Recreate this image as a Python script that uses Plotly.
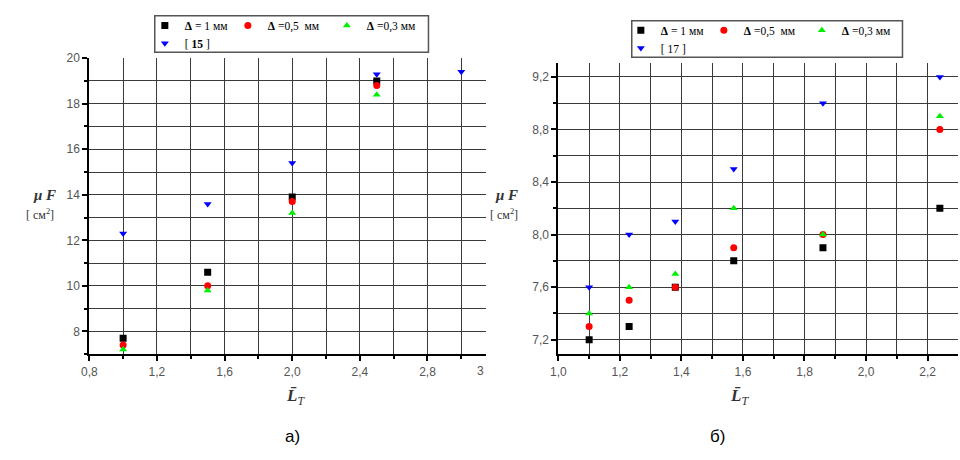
import plotly.graph_objects as go

# ---------------- data: panel а) ----------------
xa = [1.0, 1.5, 2.0, 2.5]
a_d1 = [7.7, 10.6, 13.9, 19.0]
a_d05 = [7.4, 10.0, 13.7, 18.8]
a_d03 = [7.2, 9.8, 13.2, 18.4]
xa_ref = [1.0, 1.5, 2.0, 2.5, 3.0]
a_ref = [12.3, 13.6, 15.4, 19.3, 19.4]

# ---------------- data: panel б) ----------------
xb = [1.10, 1.23, 1.38, 1.57, 1.86, 2.24]
b_d1 = [7.2, 7.3, 7.6, 7.8, 7.9, 8.2]
b_d05 = [7.3, 7.5, 7.6, 7.9, 8.0, 8.8]
b_d03 = [7.4, 7.6, 7.7, 8.2, 8.0, 8.9]
b_ref = [7.6, 8.0, 8.1, 8.5, 9.0, 9.2]

labels = ["<b>Δ</b> = 1 мм", "<b>Δ</b> =0,5  мм", "<b>Δ</b> =0,3 мм"]
ref_a_label = "[ <b>15</b> ]"
ref_b_label = "[ 17 ]"

W, H = 960, 460
BLACK, RED, GREEN, BLUE = "#000000", "#ff0000", "#00ee00", "#0000ff"
MSIZE = 7

fig = go.Figure()

def add(x, y, name, color, symbol, xa_, ya_, legend, lw=None):
    fig.add_trace(go.Scatter(
        x=x, y=y, name=name, mode="markers",
        marker=dict(color=color, symbol=symbol, size=MSIZE, line=dict(width=0)),
        xaxis=xa_, yaxis=ya_, legend=legend, legendwidth=lw))

add(xa, a_d1, labels[0], BLACK, "square", "x", "y", "legend", 38)
add(xa, a_d05, labels[1], RED, "circle", "x", "y", "legend", 54)
add(xa, a_d03, labels[2], GREEN, "triangle-up", "x", "y", "legend")
add(xa_ref, a_ref, ref_a_label, BLUE, "triangle-down", "x", "y", "legend2")

add(xb, b_d1, labels[0], BLACK, "square", "x2", "y2", "legend3", 38)
add(xb, b_d05, labels[1], RED, "circle", "x2", "y2", "legend3", 53)
add(xb, b_d03, labels[2], GREEN, "triangle-up", "x2", "y2", "legend3")
add(xb, b_ref, ref_b_label, BLUE, "triangle-down", "x2", "y2", "legend4")

GRID = "#3a3a3a"
tickfont = dict(family="Liberation Sans", size=12, color="#555555")

def ax(domain, rng, tick0, dtick, mdtick, anchor, fmt):
    return dict(domain=domain, range=rng, anchor=anchor, tick0=tick0, dtick=dtick,
                tickformat=fmt, showgrid=True, gridcolor=GRID, gridwidth=1.4,
                ticks="outside", ticklen=5, tickwidth=1.5, tickcolor="black",
                showline=True, linecolor="black", linewidth=2, zeroline=False,
                tickfont=tickfont,
                minor=dict(tick0=tick0, dtick=mdtick, showgrid=True, gridcolor=GRID,
                           gridwidth=1.4, ticks="outside", ticklen=3, tickcolor="black"))

ybot = 1 - 352.5 / H
fig.update_layout(
    width=W, height=H, margin=dict(l=0, r=0, t=0, b=0),
    paper_bgcolor="white", plot_bgcolor="white", separators=", ",
    xaxis=ax([82 / W, 482 / W], [0.8, 3.146], 0.8, 0.4, 0.2, "y", ".1f"),
    yaxis=ax([ybot, 1 - 52 / H], [7, 20], 8, 2, 1, "x", "d"),
    xaxis2=ax([555 / W, 958 / W], [1.0, 2.299], 1.0, 0.2, 0.1, "y2", ".1f"),
    yaxis2=ax([ybot, 1 - 57 / H], [7.09, 9.305], 7.2, 0.4, 0.2, "x2", ".1f"),
)

leg_common = dict(orientation="h", xanchor="left", yanchor="top",
                  bgcolor="rgba(0,0,0,0)", borderwidth=0,
                  font=dict(family="Liberation Serif", size=11.5, color="black"))
fig.update_layout(
    legend=dict(x=138 / W, y=1 - 4 / H, **leg_common),
    legend2=dict(x=138 / W, y=1 - 22 / H, **leg_common),
    legend3=dict(x=618 / W, y=1 - 9 / H, **leg_common),
    legend4=dict(x=618 / W, y=1 - 27 / H, **leg_common),
)

# legend frames
for x0, x1, y0, y1 in [(148, 424, 9, 46), (629, 902, 14, 51)]:
    fig.add_shape(type="rect", xref="paper", yref="paper", layer="above",
                  x0=x0 / W, x1=x1 / W, y0=1 - y1 / H, y1=1 - y0 / H,
                  line=dict(color="#555555", width=1.5))

def note(x, y, text, font, xanchor="center"):
    fig.add_annotation(x=x / W, y=1 - y / H, xref="paper", yref="paper",
                       xanchor=xanchor, yanchor="middle",
                       text=text, showarrow=False, font=font)

serif15 = dict(family="Liberation Serif", size=15, color="#333333")
serif12 = dict(family="Liberation Serif", size=12, color="#333333")
for cx_mu, cx_cm in ((37, 32), (503, 500)):
    note(cx_mu, 191, "<b><i>μ F</i></b>", serif15)
    note(cx_cm, 211, "[ см<sup>2</sup>]", serif12)

xtitle = "<b><i>L\u0304</i></b><sub><i>T</i></sub>"
xt_font = dict(family="Liberation Serif", size=17, color="#333333")
note(290, 396, xtitle, xt_font)
note(738, 396, xtitle, xt_font)

note(482, 370, "3", tickfont, xanchor="right")
lab_font = dict(family="Liberation Sans", size=17, color="black")
note(287, 436, "а)", lab_font)
note(715, 436, "б)", lab_font)

fig.write_html("out.html")
